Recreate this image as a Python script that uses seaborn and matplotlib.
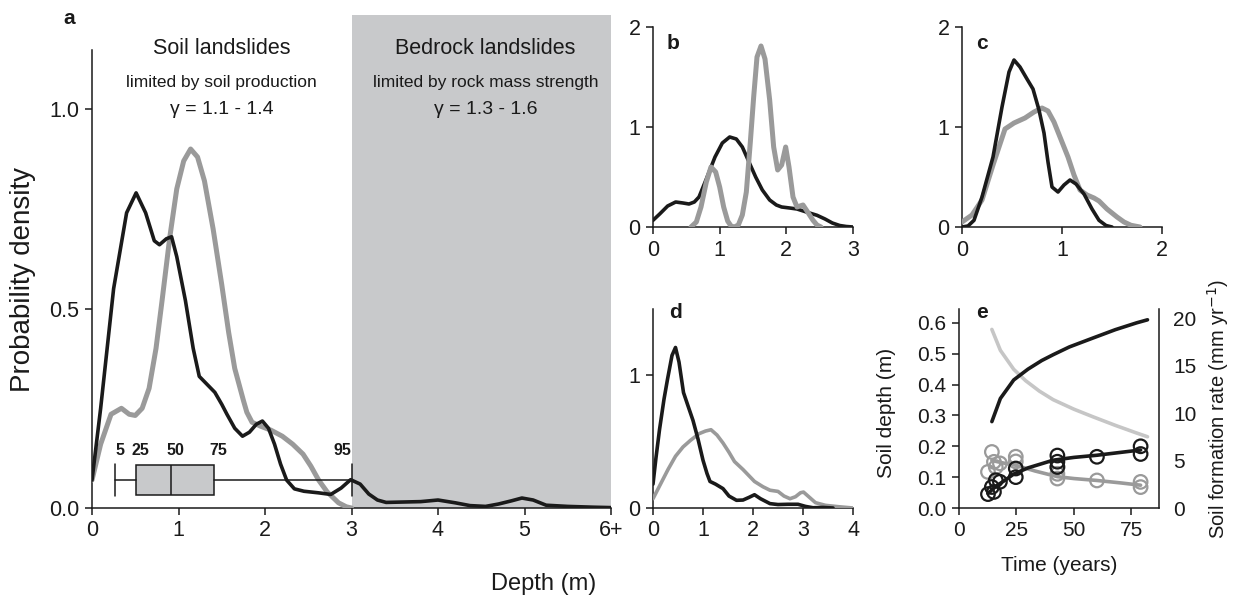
import numpy as np
import pandas as pd
import matplotlib
matplotlib.use("Agg")
import matplotlib.pyplot as plt
import seaborn as sns

sns.set_theme(style="ticks")
plt.rcParams['font.family'] = ['Liberation Sans', 'DejaVu Sans']

BLACK = "#1a1a1a"
GRAY = "#9a9a9a"
LIGHT = "#c6c6c6"
SHADE = "#c8c9cb"

# ---------------- data ----------------
# panel a
a_black_x = [0, 0.1, 0.25, 0.4, 0.51, 0.62, 0.72, 0.78, 0.86, 0.92, 0.98, 1.08, 1.17, 1.24, 1.33, 1.42, 1.5, 1.56, 1.65, 1.74, 1.82, 1.9, 1.97, 2.04, 2.11, 2.18, 2.25, 2.34, 2.45, 2.62, 2.76, 2.88, 2.99, 3.1, 3.2, 3.3, 3.4, 3.6, 3.8, 4.0, 4.2, 4.37, 4.55, 4.7, 4.85, 4.97, 5.1, 5.25, 5.5, 5.8, 6.0]
a_black_y = [0.07, 0.25, 0.55, 0.74, 0.79, 0.74, 0.67, 0.66, 0.675, 0.68, 0.63, 0.52, 0.40, 0.33, 0.31, 0.29, 0.26, 0.235, 0.20, 0.18, 0.19, 0.21, 0.218, 0.20, 0.16, 0.11, 0.07, 0.048, 0.042, 0.038, 0.034, 0.05, 0.071, 0.06, 0.035, 0.02, 0.014, 0.015, 0.016, 0.02, 0.013, 0.006, 0.004, 0.01, 0.018, 0.025, 0.02, 0.007, 0.004, 0.002, 0.001]
a_gray_x = [0, 0.1, 0.22, 0.34, 0.43, 0.5, 0.58, 0.66, 0.74, 0.81, 0.9, 0.98, 1.06, 1.14, 1.22, 1.3, 1.4, 1.5, 1.58, 1.65, 1.7, 1.75, 1.79, 1.85, 1.95, 2.07, 2.2, 2.32, 2.44, 2.53, 2.62, 2.72, 2.85, 2.94, 3.0]
a_gray_y = [0.07, 0.16, 0.235, 0.25, 0.235, 0.232, 0.25, 0.30, 0.40, 0.52, 0.68, 0.80, 0.87, 0.90, 0.88, 0.82, 0.70, 0.56, 0.44, 0.35, 0.31, 0.27, 0.24, 0.215, 0.205, 0.195, 0.18, 0.16, 0.135, 0.105, 0.07, 0.04, 0.013, 0.003, 0.0]

# boxplot percentiles (5, 25, 50, 75, 95)
box_pct = [5, 25, 50, 75, 95]
box_val = [0.27, 0.51, 0.91, 1.41, 3.0]

# panel b
b_black_x = [0, 0.1, 0.22, 0.34, 0.45, 0.54, 0.62, 0.69, 0.8, 0.93, 1.04, 1.15, 1.25, 1.34, 1.44, 1.54, 1.64, 1.75, 1.85, 1.93, 2.05, 2.16, 2.3, 2.46, 2.58, 2.69, 2.8, 2.9, 3.0]
b_black_y = [0.067, 0.13, 0.21, 0.25, 0.24, 0.23, 0.25, 0.30, 0.48, 0.70, 0.84, 0.90, 0.88, 0.80, 0.65, 0.50, 0.37, 0.27, 0.22, 0.20, 0.19, 0.18, 0.15, 0.117, 0.08, 0.04, 0.015, 0.005, 0.0]
b_gray_x = [0.57, 0.65, 0.72, 0.8, 0.87, 0.94, 1.0, 1.06, 1.12, 1.17, 1.22, 1.28, 1.34, 1.4, 1.46, 1.51, 1.56, 1.62, 1.68, 1.75, 1.81, 1.87, 1.93, 1.99, 2.04, 2.1, 2.16, 2.25, 2.32, 2.4, 2.46, 2.52]
b_gray_y = [0.0, 0.05, 0.2, 0.45, 0.6, 0.55, 0.40, 0.2, 0.06, 0.01, 0.0, 0.02, 0.12, 0.35, 0.85, 1.30, 1.70, 1.81, 1.68, 1.27, 0.80, 0.57, 0.62, 0.80, 0.60, 0.30, 0.20, 0.22, 0.15, 0.067, 0.02, 0.0]

# panel c
c_black_x = [0, 0.06, 0.12, 0.2, 0.31, 0.4, 0.47, 0.52, 0.58, 0.65, 0.71, 0.77, 0.82, 0.86, 0.9, 0.96, 1.02, 1.08, 1.14, 1.22, 1.3, 1.37, 1.44, 1.5]
c_black_y = [0.0, 0.01, 0.067, 0.3, 0.70, 1.20, 1.55, 1.67, 1.60, 1.48, 1.38, 1.17, 0.94, 0.65, 0.40, 0.35, 0.42, 0.47, 0.43, 0.33, 0.18, 0.067, 0.015, 0.0]
c_gray_x = [0, 0.1, 0.2, 0.31, 0.43, 0.52, 0.63, 0.72, 0.8, 0.86, 0.92, 0.98, 1.06, 1.12, 1.18, 1.25, 1.32, 1.37, 1.45, 1.55, 1.62, 1.69, 1.78]
c_gray_y = [0.05, 0.12, 0.27, 0.62, 0.98, 1.04, 1.09, 1.15, 1.19, 1.16, 1.05, 0.90, 0.70, 0.52, 0.37, 0.32, 0.29, 0.26, 0.18, 0.10, 0.05, 0.017, 0.0]

# panel d
d_black_x = [0, 0.06, 0.13, 0.22, 0.29, 0.38, 0.45, 0.52, 0.61, 0.7, 0.8, 0.9, 1.0, 1.08, 1.14, 1.25, 1.4, 1.52, 1.67, 1.8, 1.92, 2.03, 2.15, 2.34, 2.5, 2.7, 2.9, 3.05, 3.2, 3.4, 3.6]
d_black_y = [0.18, 0.38, 0.59, 0.82, 0.97, 1.15, 1.21, 1.10, 0.87, 0.77, 0.66, 0.52, 0.36, 0.26, 0.20, 0.18, 0.146, 0.09, 0.058, 0.06, 0.08, 0.10, 0.07, 0.033, 0.026, 0.028, 0.028, 0.012, 0.002, 0.004, 0.0]
d_gray_x = [0, 0.15, 0.3, 0.45, 0.6, 0.75, 0.92, 1.05, 1.16, 1.28, 1.4, 1.52, 1.63, 1.8, 2.03, 2.2, 2.34, 2.5, 2.62, 2.74, 2.85, 2.95, 3.01, 3.1, 3.25, 3.45, 3.7, 4.0]
d_gray_y = [0.07, 0.18, 0.29, 0.39, 0.46, 0.51, 0.56, 0.58, 0.59, 0.55, 0.49, 0.42, 0.35, 0.29, 0.20, 0.16, 0.134, 0.125, 0.09, 0.07, 0.085, 0.115, 0.12, 0.09, 0.04, 0.02, 0.01, 0.0]

# panel e
e_model_depth_t = [14.3, 18, 23.8, 30, 36, 41, 48, 58.3, 68, 77.2, 82]
e_model_depth_y = [0.28, 0.355, 0.415, 0.45, 0.478, 0.497, 0.522, 0.551, 0.578, 0.600, 0.61]
e_model_rate_t = [14.3, 18, 23.8, 29, 35, 41, 50, 58.3, 68, 77.2, 82]
e_model_rate_y = [18.8, 16.6, 14.6, 13.4, 12.3, 11.4, 10.4, 9.6, 8.7, 7.9, 7.5]
e_depth_t = [12.6, 14.3, 15.2, 16.0, 17.8, 24.7, 24.7, 42.8, 42.8, 42.8, 60.0, 79.0, 79.0]
e_depth_y = [0.045, 0.068, 0.052, 0.09, 0.085, 0.128, 0.10, 0.17, 0.15, 0.133, 0.166, 0.20, 0.175]
e_depth_fit_t = [12.6, 16, 20, 23.8, 30, 41, 50, 60, 70, 79]
e_depth_fit_y = [0.047, 0.07, 0.09, 0.11, 0.13, 0.155, 0.164, 0.171, 0.18, 0.188]
e_rate_t = [12.6, 14.3, 15.2, 16.0, 17.8, 24.7, 24.7, 42.8, 42.8, 42.8, 60.0, 79.0, 79.0]
e_rate_y = [3.8, 5.9, 4.86, 4.3, 4.7, 5.4, 4.9, 3.6, 3.1, 4.3, 2.9, 2.75, 2.2]
e_rate_fit_t = [14.3, 20, 24.7, 33, 42.8, 50, 60, 70, 79]
e_rate_fit_y = [5.0, 4.7, 4.5, 3.9, 3.3, 3.1, 2.9, 2.65, 2.4]

# ---------------- figure ----------------
W, H = 1235, 600
fig = plt.figure(figsize=(W / 100, H / 100), dpi=100)

def px_axes(left, right, bottom, top):
    return fig.add_axes([left / W, 1 - bottom / H, (right - left) / W, (bottom - top) / H])

TICK_FS = 15.5
LW_B = 2.6
LW_G = 3.6

def style(ax, fs=TICK_FS):
    sns.despine(ax=ax)
    ax.tick_params(direction="out", length=5, width=1.1, labelsize=fs, colors=BLACK, pad=4)
    for s in ["left", "bottom", "right"]:
        ax.spines[s].set_linewidth(1.1)
        ax.spines[s].set_color(BLACK)
    ax.set_xlabel("")
    ax.set_ylabel("")

# ---- panel a ----
ax = px_axes(92, 611, 508, 15)
ax.axvspan(3, 6, ymin=0, ymax=1, color=SHADE, lw=0, zorder=0)
sns.lineplot(x=a_gray_x, y=a_gray_y, ax=ax, color=GRAY, lw=LW_G, sort=False, zorder=3)
sns.lineplot(x=a_black_x, y=a_black_y, ax=ax, color=BLACK, lw=LW_B, sort=False, zorder=4)
stats = [dict(whislo=box_val[0], q1=box_val[1], med=box_val[2], q3=box_val[3], whishi=box_val[4], fliers=[])]
ax.bxp(stats, positions=[0.07], widths=0.076, orientation="horizontal", patch_artist=True, showfliers=False,
       boxprops=dict(facecolor=SHADE, edgecolor=BLACK, lw=1.1),
       medianprops=dict(color=BLACK, lw=1.1), whiskerprops=dict(color=BLACK, lw=1.1),
       capprops=dict(color=BLACK, lw=1.1), capwidths=0.08, manage_ticks=False, zorder=5)
for p, v in zip(box_pct, box_val):
    ha = "right" if p == 95 else "center"
    xx = v + (0.05 if p != 95 else 0.0)
    ax.text(xx, 0.125, str(p), ha=ha, va="bottom", fontsize=11.5, fontweight="bold", color=BLACK)
ax.set_xlim(0, 6)
ax.set_ylim(0, 1.236)
ax.set_xticks([0, 1, 2, 3, 4, 5, 6])
ax.set_xticklabels(["0", "1", "2", "3", "4", "5", "6+"])
ax.set_yticks([0, 0.5, 1.0])
ax.set_yticklabels(["0.0", "0.5", "1.0"])
style(ax)
ax.spines["left"].set_bounds(0, 1.148)
ax.set_ylabel("Probability density", fontsize=20, color=BLACK)
ax.yaxis.set_label_coords((36 - 92) / 519, (508 - 280) / 493)
ax.text(1.5, 1.153, "Soil landslides", ha="center", va="center", fontsize=15.5, color=BLACK)
ax.text(1.5, 1.068, "limited by soil production", ha="center", va="center", fontsize=12.5, color=BLACK)
ax.text(1.5, 0.998, "γ = 1.1 - 1.4", ha="center", va="center", fontsize=14, color=BLACK)
ax.text(4.55, 1.153, "Bedrock landslides", ha="center", va="center", fontsize=15.5, color=BLACK)
ax.text(4.55, 1.068, "limited by rock mass strength", ha="center", va="center", fontsize=12.5, color=BLACK)
ax.text(4.55, 0.998, "γ = 1.3 - 1.6", ha="center", va="center", fontsize=14, color=BLACK)
fig.text(69 / W, 1 - 19 / H, "a", fontsize=15, fontweight="bold", ha="center", va="center", color=BLACK)
fig.text(544 / W, 1 - 584 / H, "Depth (m)", fontsize=17, ha="center", va="center", color=BLACK)

# ---- panel b ----
ax = px_axes(653, 853, 227, 27)
sns.lineplot(x=b_black_x, y=b_black_y, ax=ax, color=BLACK, lw=LW_B, sort=False, zorder=3)
sns.lineplot(x=b_gray_x, y=b_gray_y, ax=ax, color=GRAY, lw=LW_G, sort=False, zorder=4)
ax.set_xlim(0, 3); ax.set_ylim(0, 2)
ax.set_xticks([0, 1, 2, 3]); ax.set_yticks([0, 1, 2])
style(ax)
ax.text(0.07, 0.92, "b", transform=ax.transAxes, fontsize=15, fontweight="bold", ha="left", va="center", color=BLACK)

# ---- panel c ----
ax = px_axes(962, 1162, 227, 27)
sns.lineplot(x=c_gray_x, y=c_gray_y, ax=ax, color=GRAY, lw=LW_G, sort=False, zorder=3)
sns.lineplot(x=c_black_x, y=c_black_y, ax=ax, color=BLACK, lw=LW_B, sort=False, zorder=4)
ax.set_xlim(0, 2); ax.set_ylim(0, 2)
ax.set_xticks([0, 1, 2]); ax.set_yticks([0, 1, 2])
style(ax)
ax.text(0.07, 0.92, "c", transform=ax.transAxes, fontsize=15, fontweight="bold", ha="left", va="center", color=BLACK)

# ---- panel d ----
ax = px_axes(653, 853, 508, 309)
sns.lineplot(x=d_gray_x, y=d_gray_y, ax=ax, color=GRAY, lw=LW_B, sort=False, zorder=3)
sns.lineplot(x=d_black_x, y=d_black_y, ax=ax, color=BLACK, lw=LW_B, sort=False, zorder=4)
ax.set_xlim(0, 4); ax.set_ylim(0, 1.5)
ax.set_xticks([0, 1, 2, 3, 4]); ax.set_yticks([0, 1])
style(ax)
ax.text(0.08, 0.98, "d", transform=ax.transAxes, fontsize=15, fontweight="bold", ha="left", va="center", color=BLACK)

# ---- panel e ----
E_FS = 15
ax = px_axes(959, 1159, 508, 309)
ax2 = ax.twinx()
sns.lineplot(x=e_model_rate_t, y=e_model_rate_y, ax=ax2, color=LIGHT, lw=LW_B, sort=False, zorder=2)
sns.lineplot(x=e_rate_fit_t, y=e_rate_fit_y, ax=ax2, color=GRAY, lw=LW_B, sort=False, zorder=3)
sns.scatterplot(x=e_rate_t, y=e_rate_y, ax=ax2, s=95, facecolor="none", edgecolor=GRAY, linewidth=1.6, zorder=4)
ax2.set_ylim(0, 20.95)
ax2.set_yticks([0, 5, 10, 15, 20])
ax.set_zorder(ax2.get_zorder() + 1)
ax.patch.set_visible(False)
sns.lineplot(x=e_model_depth_t, y=e_model_depth_y, ax=ax, color=BLACK, lw=LW_B, sort=False, zorder=3)
sns.lineplot(x=e_depth_fit_t, y=e_depth_fit_y, ax=ax, color=BLACK, lw=LW_B, sort=False, zorder=3)
sns.scatterplot(x=e_depth_t, y=e_depth_y, ax=ax, s=95, facecolor="none", edgecolor=BLACK, linewidth=1.6, zorder=4)
ax.set_xlim(0, 87); ax.set_ylim(0, 0.645)
ax.set_xticks([0, 25, 50, 75])
ax.set_yticks([0, 0.1, 0.2, 0.3, 0.4, 0.5, 0.6])
ax.set_yticklabels(["0.0", "0.1", "0.2", "0.3", "0.4", "0.5", "0.6"])
style(ax, E_FS)
sns.despine(ax=ax2, right=False, left=True, bottom=True)
ax2.tick_params(direction="out", length=6, width=1.1, labelsize=E_FS, colors=BLACK, pad=4)
ax2.spines["right"].set_linewidth(1.1); ax2.spines["right"].set_color(BLACK)
ax2.set_ylabel("Soil formation rate (mm yr$^{-1}$)", fontsize=14.5, color=BLACK)
ax2.yaxis.set_label_coords((1205 - 959) / 200, 0.5)
ax.set_ylabel("Soil depth (m)", fontsize=15, color=BLACK)
ax.yaxis.set_label_coords((896 - 959) / 200, (508 - 413) / 199)
ax.set_xlabel("Time (years)", fontsize=15, color=BLACK)
ax.xaxis.set_label_coords(0.5, (508 - 556) / 199)
ax.text(0.085, 0.98, "e", transform=ax.transAxes, fontsize=15, fontweight="bold", ha="left", va="center", color=BLACK)

fig.savefig("out.png", dpi=100)
